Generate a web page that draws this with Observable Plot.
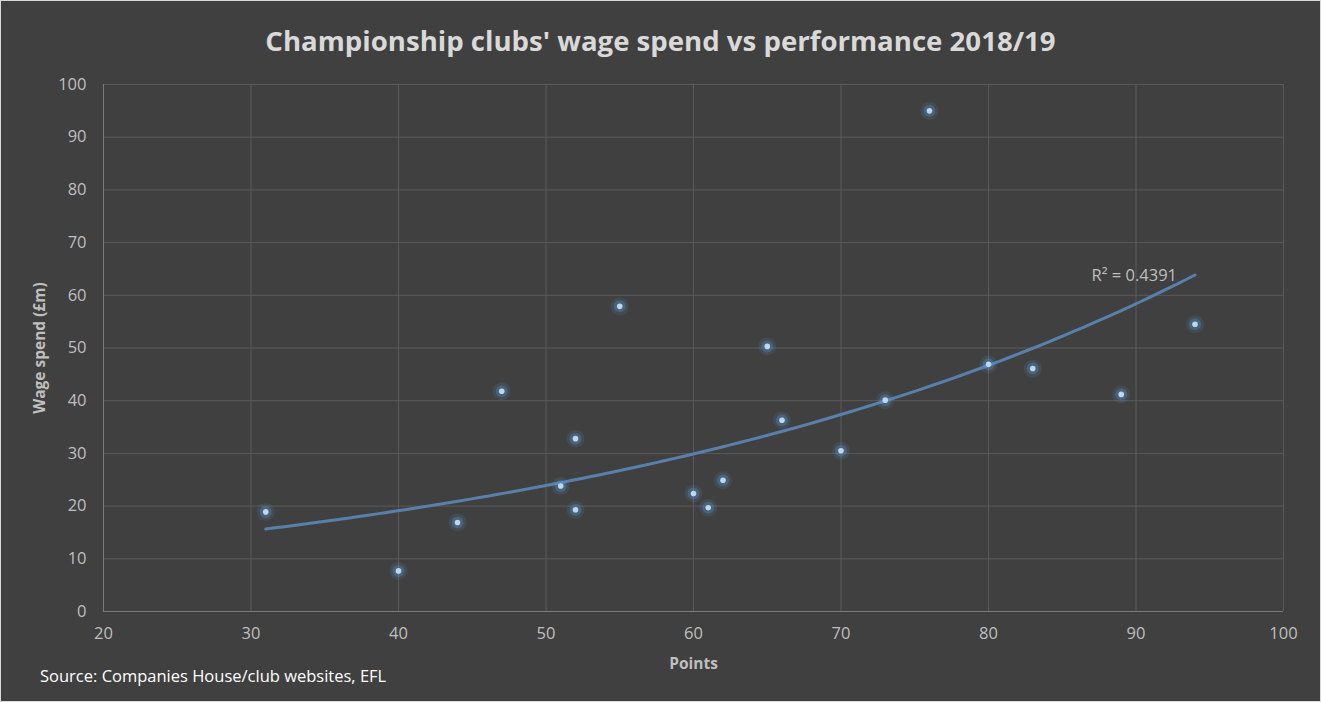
<!DOCTYPE html>
<html><head><meta charset="utf-8">
<script src="https://cdn.jsdelivr.net/npm/d3@7"></script>
<script src="https://cdn.jsdelivr.net/npm/@observablehq/plot@0.6"></script>
<style>
html,body{margin:0;padding:0;background:#d9d9d9;}
#wrap{position:relative;width:1319px;height:700px;background:#404040;border:1px solid #d9d9d9;overflow:hidden;font-family:"Open Sans",sans-serif;}
#title{height:69px;line-height:78px;text-align:center;color:#d9d9d9;font-size:27.6px;font-weight:700;}
#source{position:absolute;left:39px;top:663px;color:#ffffff;font-size:16.5px;}
</style></head>
<body><div id="wrap"><div id="title">Championship clubs' wage spend vs performance 2018/19</div><div id="chart"></div><div id="source">Source: Companies House/club websites, EFL</div></div>
<script>
const points = [31,40,44,47,51,52,52,55,60,61,62,65,66,70,73,76,80,83,89,94];
const wages  = [18.9,7.7,16.9,41.8,23.8,32.8,19.3,57.9,22.4,19.7,24.9,50.3,36.3,30.5,40.1,95.0,46.9,46.1,41.2,54.5];
const xTicks = [20,30,40,50,60,70,80,90,100];
const yTicks = [0,10,20,30,40,50,60,70,80,90,100];
const r2Label = "R² = 0.4391";

const data = points.map((p,i)=>({points:p, wage:wages[i]}));
// exponential trendline (least squares on ln y)
const mx = d3.mean(data,d=>d.points), my = d3.mean(data,d=>Math.log(d.wage));
const b = d3.sum(data,d=>(d.points-mx)*(Math.log(d.wage)-my))/d3.sum(data,d=>(d.points-mx)**2);
const a = Math.exp(my - b*mx);
const [x0,x1] = d3.extent(points);
const trend = d3.range(0,101).map(i=>{const x=x0+(x1-x0)*i/100; return {points:x, wage:a*Math.exp(b*x)};});

const chart = Plot.plot({
  width:1319, height:618,
  marginTop:14, marginLeft:102, marginRight:37, marginBottom:77,
  style:{background:"transparent", color:"#bfbfbf", fontFamily:"Open Sans, sans-serif", fontSize:"15px"},
  x:{domain:[20,100], ticks:xTicks, tickSize:0, tickPadding:16, label:"Points", labelArrow:"none", labelAnchor:"center", labelOffset:57},
  y:{domain:[0,100], ticks:yTicks, tickSize:0, tickPadding:17, label:"Wage spend (£m)", labelArrow:"none", labelAnchor:"center", labelOffset:70},
  marks:[
    Plot.gridX(xTicks,{stroke:"#5a5a5a", strokeOpacity:1, strokeWidth:1}),
    Plot.gridY(yTicks,{stroke:"#5a5a5a", strokeOpacity:1, strokeWidth:1}),
    Plot.ruleX([20],{stroke:"#7a7a7a"}),
    Plot.ruleY([0],{stroke:"#7a7a7a"}),
    Plot.line(trend,{x:"points", y:"wage", stroke:"#5880aa", strokeWidth:3}),
    Plot.text([trend[trend.length-1]],{x:"points", y:"wage", text:()=>r2Label, textAnchor:"end", dx:-18, dy:1, fill:"#bfbfbf", fontSize:16.5}),
    Plot.dot(data,{x:"points", y:"wage", r:9, fill:"#5b9bd5", fillOpacity:0.13}),
    Plot.dot(data,{x:"points", y:"wage", r:6, fill:"#5b9bd5", fillOpacity:0.3}),
    Plot.dot(data,{x:"points", y:"wage", r:2.8, fill:"#bdd7ee"})
  ]
});
d3.select(chart).selectAll("[aria-label='x-axis label'] text, [aria-label='y-axis label'] text")
  .style("font-weight","bold").style("font-size","15.5px")
  .text(function(){return this.textContent.replace(/\s*[↑→←↓]\s*/g,"");});
d3.select(chart).selectAll("[aria-label='x-axis tick label'], [aria-label='y-axis tick label']").style("font-size","16.5px");
document.getElementById("chart").appendChild(chart);
</script></body></html>
